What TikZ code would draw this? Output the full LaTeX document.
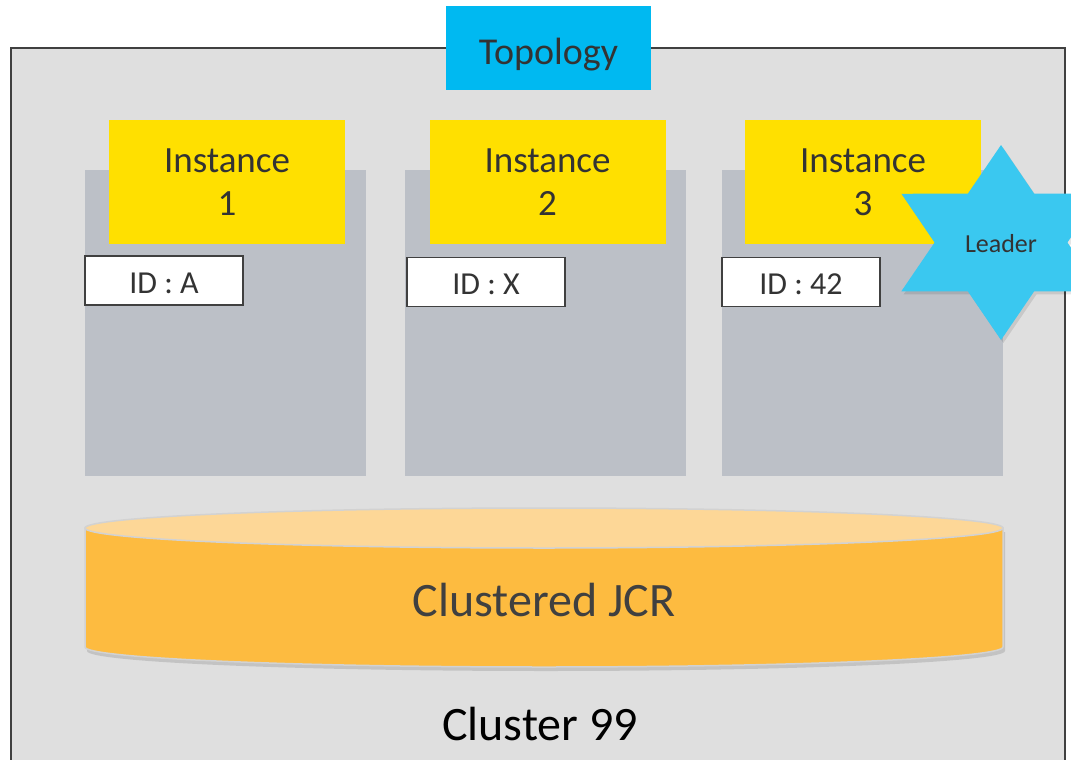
\documentclass[tikz,border=0pt]{standalone}
\usepackage{fontspec}
\setmainfont{Carlito}
\usepackage{xcolor}
\usepackage{tikz}
\usetikzlibrary{positioning}
\definecolor{clusterbg}{HTML}{DFDFDF}
\definecolor{framegray}{HTML}{404040}
\definecolor{colgray}{HTML}{BCC0C7}
\definecolor{instyellow}{HTML}{FFE000}
\definecolor{topoblue}{HTML}{00B9F1}
\definecolor{starblue}{HTML}{3AC8F0}
\definecolor{cylside}{HTML}{FDBB40}
\definecolor{cyltop}{HTML}{FDD797}
\definecolor{cylrim}{HTML}{D2D2D2}
\definecolor{textgray}{HTML}{333333}

\begin{document}
\begin{tikzpicture}[x=1pt,y=-1pt,
    inst/.style={fill=instyellow, minimum width=236pt, minimum height=124pt, align=center,
        text=textgray, font=\fontsize{37}{43}\selectfont},
    idbox/.style={draw=framegray, line width=1.5pt, fill=white, minimum width=158pt,
        minimum height=49pt, text=textgray, font=\fontsize{32}{36}\selectfont,
        text height=25pt, text depth=0pt}]
        \useasboundingbox (0,0) rectangle (1071,760);
        \clip (0,0) rectangle (1071,760);

        % cluster frame
        \filldraw[draw=framegray, line width=2pt, fill=clusterbg] (11,48) rectangle (1065,800);
        \node[fill=topoblue, minimum width=205pt, minimum height=84pt, text=textgray,
            font=\fontsize{38}{42}\selectfont, text height=32pt, text depth=0pt] (topo) at (548.5,48) {Topology};

        % instances
        \fill[colgray] (85,170) rectangle (366,476);
        \fill[colgray] (405,170) rectangle (686,476);
        \fill[colgray] (722,170) rectangle (1003,476);
        \node[inst] (inst1) at (227,182) {Instance\\1};
        \node[inst] (inst2) at (547.5,182) {Instance\\2};
        \node[inst] (inst3) at (863,182) {Instance\\3};
        \node[idbox] (id1) at (164,280.5) {ID : A};
        \node[idbox] (id2) at (486,282) {ID : X};
        \node[idbox] (id3) at (801,282) {ID : 42};

        % leader star
        \begin{scope}[shift={(1001,242.5)}, xscale=1.18]
            \fill[black, opacity=0.1, shift={(2,3)}] (90:97.5) -- (120:56.3) -- (150:97.5) -- (180:56.3)
                -- (210:97.5) -- (240:56.3) -- (270:97.5) -- (300:56.3) -- (330:97.5) -- (0:56.3)
                -- (30:97.5) -- (60:56.3) -- cycle;
            \fill[starblue] (90:97.5) -- (120:56.3) -- (150:97.5) -- (180:56.3)
                -- (210:97.5) -- (240:56.3) -- (270:97.5) -- (300:56.3) -- (330:97.5) -- (0:56.3)
                -- (30:97.5) -- (60:56.3) -- cycle;
        \end{scope}
        \node[text=textgray, font=\fontsize{26}{30}\selectfont, text height=20pt, text depth=0pt]
            (leader) at (1001,242.5) {Leader};

        % repository
        \fill[black, opacity=0.12] (87,532) -- (87,651) .. controls (87,662) and (292,671) .. (546,671)
            .. controls (800,671) and (1005,662) .. (1005,651) -- (1005,532) -- cycle;
        \filldraw[draw=cylrim, line width=1.5pt, fill=cylside] (85,528) -- (85,647)
            .. controls (85,658) and (290.5,667) .. (544,667)
            .. controls (797.5,667) and (1003,658) .. (1003,647) -- (1003,528) -- cycle;
        \filldraw[draw=cylrim, line width=1.5pt, fill=cyltop] (544,528) ellipse [x radius=459pt, y radius=20pt];
        \node[text=framegray, font=\fontsize{48}{54}\selectfont, text height=32pt, text depth=0pt]
            (jcr) at (544,600) {Clustered JCR};

        \node[text=black, font=\fontsize{48}{54}\selectfont, text height=32pt, text depth=0pt]
            (cluster) at (540,724) {Cluster 99};
    \end{tikzpicture}
\end{document}
